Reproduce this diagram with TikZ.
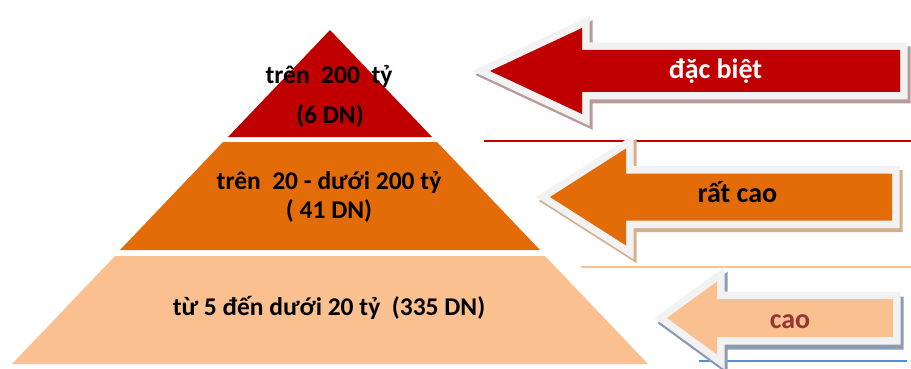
\documentclass[tikz,border=0pt]{standalone}
\usepackage{fontspec}
\setmainfont{Carlito}
\definecolor{cred}{HTML}{C00000}
\definecolor{corange}{HTML}{E36C09}
\definecolor{cpeach}{HTML}{FAC090}
\definecolor{cborder}{HTML}{F2F2F2}
\definecolor{shred}{HTML}{B89A9B}
\definecolor{shorange}{HTML}{D6AE8C}
\definecolor{shpeach}{HTML}{8E9CB2}
\definecolor{ccao}{HTML}{953735}
\definecolor{cblue}{HTML}{558ED5}
\tikzset{
  pyrtext/.style={anchor=base, inner sep=0pt, font=\fontsize{25.5}{27}\selectfont\bfseries, text=black},
  arrtext/.style={anchor=base, inner sep=0pt, font=\fontsize{28}{30}\selectfont\bfseries},
  rim/.style={draw=cborder, line width=15pt, line join=miter, miter limit=10},
  shadowrim/.style={draw=#1, fill=#1, line width=15pt, line join=miter, miter limit=10},
  sepline/.style={line width=1.6pt}
}
% arrow path: tip x, tip y, head back x, half head height, half shaft height, right x
\newcommand{\myarrowpath}[6]{(#1,#2) -- (#3,#2-#4) -- (#3,#2-#5) -- (#6,#2-#5) -- (#6,#2+#5) -- (#3,#2+#5) -- (#3,#2+#4) -- cycle}
\begin{document}
\begin{tikzpicture}[x=1pt,y=-1pt]
\useasboundingbox (0,0) rectangle (911,369);
% separator lines
\draw[sepline, cred] (484,141) -- (911,141);
\draw[sepline, cpeach] (581,267) -- (911,267);
\draw[sepline, cblue] (699,361) -- (907,361);
% pyramid
\fill[cred] (330,30) -- (432,137) -- (228,137) -- cycle;
\fill[corange] (223,142) -- (437,142) -- (540,250) -- (120,250) -- cycle;
\fill[cpeach] (115,256) -- (545,256) -- (648,364) -- (12,364) -- cycle;
\node[pyrtext] (t1) at (329,84) {trên\ \ 200\ \ tỷ};
\node[pyrtext] (t2) at (330,124) {(6 DN)};
\node[pyrtext] (m1) at (329,189) {trên\ \ 20 - dưới 200 tỷ};
\node[pyrtext] (m2) at (329,218) {(\ 41 DN)};
\node[pyrtext] (b1) at (329,315) {từ 5 đến dưới 20 tỷ\ \ (335 DN)};
% arrow 1
\begin{scope}[shift={(3,4)}]
\path[shadowrim=shred] \myarrowpath{490}{71}{582}{43}{21}{900};
\end{scope}
\path[rim] \myarrowpath{490}{71}{582}{43}{21}{900};
\fill[cred] \myarrowpath{490}{71}{582}{43}{21}{900};
% arrow 2
\begin{scope}[shift={(3,4)}]
\path[shadowrim=shorange] \myarrowpath{550}{197}{626}{48.5}{23.5}{892};
\end{scope}
\path[rim] \myarrowpath{550}{197}{626}{48.5}{23.5}{892};
\fill[corange] \myarrowpath{550}{197}{626}{48.5}{23.5}{892};
% arrow 3
\begin{scope}[shift={(3,5)}]
\path[shadowrim=shpeach] \myarrowpath{667}{318}{717}{36.5}{19}{893};
\end{scope}
\path[rim] \myarrowpath{667}{318}{717}{36.5}{19}{893};
\fill[cpeach] \myarrowpath{667}{318}{717}{36.5}{19}{893};
% arrow texts
\node[arrtext, text=white] (a1) at (715.5,79) {đặc biệt};
\node[arrtext, text=black] (a2) at (737.5,202) {rất cao};
\node[arrtext, text=ccao] (a3) at (790,328) {cao};
\end{tikzpicture}
\end{document}
